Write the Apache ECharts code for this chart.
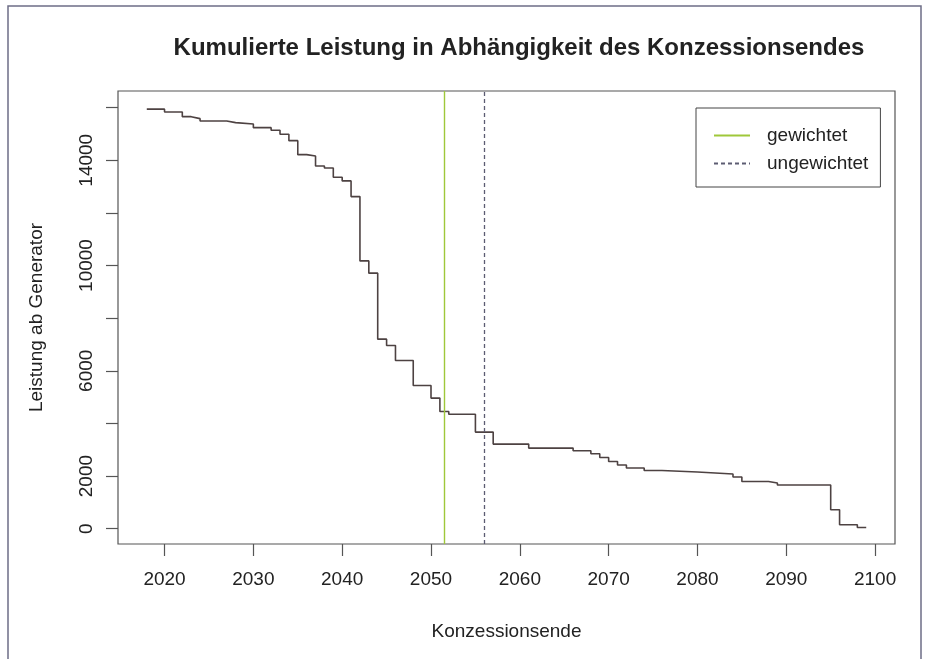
<!DOCTYPE html>
<html>
<head>
<meta charset="utf-8">
<script src="https://cdn.jsdelivr.net/npm/echarts@6/dist/echarts.min.js"></script>
<style>
  html, body { margin: 0; padding: 0; background: #fff; }
  #chart { width: 931px; height: 659px; }
</style>
</head>
<body>
<div id="chart"></div>
<script>
// Jahr des Konzessionsendes und verbleibende Leistung ab diesem Jahr
const jahre = [2018, 2020, 2022, 2023, 2024, 2027, 2028, 2030, 2032, 2033, 2034, 2035, 2036, 2037,
  2038, 2039, 2040, 2041, 2042, 2043, 2044, 2045, 2046, 2048, 2050, 2051, 2052, 2055, 2057, 2061,
  2066, 2068, 2069, 2070, 2071, 2072, 2074, 2076, 2080, 2084, 2085, 2088, 2089, 2095, 2096, 2098, 2099]
const leistung = [15940, 15834, 15655, 15580, 15492, 15428, 15378, 15238, 15139, 14987, 14744, 14212, 14163, 13783,
  13707, 13354, 13214, 12618, 10176, 9709, 7203, 6960, 6391, 5441, 4963, 4454, 4348, 3672, 3216, 3064,
  2962, 2848, 2707, 2555, 2419, 2305, 2214, 2153, 2081, 1963, 1796, 1735, 1659, 721, 152, 49, 40]

// Mittelwerte (senkrechte Linien)
const gewichtetJahr = 2051.5
const ungewichtetJahr = 2056

// Achsenbeschriftung
const xTicks = [2020, 2030, 2040, 2050, 2060, 2070, 2080, 2090, 2100]
const yTicks = [0, 2000, 4000, 6000, 8000, 10000, 12000, 14000, 16000]
const yLabels = [0, 2000, 6000, 10000, 14000]

const font = 'Liberation Sans, Arial, sans-serif'
const chart = echarts.init(document.getElementById('chart'))

const option = {
  backgroundColor: '#fff',
  animation: false,
  title: {
    text: 'Kumulierte Leistung in Abhängigkeit des Konzessionsendes',
    left: 514, top: 31, textAlign: 'center',
    textStyle: { fontFamily: font, fontSize: 24, fontWeight: 'bold', color: '#222' }
  },
  legend: {
    orient: 'vertical',
    left: 696, top: 108,
    padding: [18, 12, 14, 17],
    itemGap: 9,
    itemWidth: 36, itemHeight: 14,
    borderColor: '#444', borderWidth: 1,
    itemStyle: { opacity: 0 },
    data: ['gewichtet', 'ungewichtet'],
    textStyle: { fontFamily: font, fontSize: 19, color: '#222', padding: [0, 0, 0, 12] }
  },
  grid: {
    left: 118, right: 36, top: 91, bottom: 115,
    show: true, borderColor: '#555', borderWidth: 1.2, backgroundColor: 'transparent'
  },
  xAxis: {
    type: 'value',
    min: 2014.76, max: 2102.24,
    name: 'Konzessionsende',
    nameLocation: 'middle', nameGap: 78,
    nameTextStyle: { fontFamily: font, fontSize: 19, color: '#222' },
    axisLine: { show: false, onZero: false },
    axisTick: { show: true, length: 12, customValues: xTicks, lineStyle: { color: '#555', width: 1.2 } },
    axisLabel: {
      customValues: xTicks, margin: 26, fontFamily: font, fontSize: 19, color: '#222',
      formatter: (v) => String(v)
    },
    splitLine: { show: false }
  },
  yAxis: {
    type: 'value',
    min: -580, max: 16630,
    name: 'Leistung ab Generator',
    nameLocation: 'middle', nameGap: 72, nameRotate: 90,
    nameTextStyle: { fontFamily: font, fontSize: 19, color: '#222' },
    axisLine: { show: false, onZero: false },
    axisTick: { show: true, length: 12, customValues: yTicks, lineStyle: { color: '#555', width: 1.2 } },
    axisLabel: {
      customValues: yLabels, rotate: 90, margin: 22, fontFamily: font, fontSize: 19, color: '#222',
      formatter: (v) => String(v)
    },
    splitLine: { show: false }
  },
  series: [
    {
      name: 'Leistung',
      type: 'line',
      step: 'end',
      symbol: 'none',
      lineStyle: { color: '#4d4242', width: 1.6 },
      data: jahre.map((j, i) => [j, leistung[i]])
    },
    {
      name: 'gewichtet',
      type: 'line',
      symbol: 'none',
      data: [],
      lineStyle: { color: '#9fc83a', width: 1.4 },
      itemStyle: { color: '#9fc83a' },
      markLine: {
        silent: true, symbol: 'none', label: { show: false },
        lineStyle: { color: '#9fc83a', width: 1.4, type: 'solid' },
        data: [{ xAxis: gewichtetJahr }]
      }
    },
    {
      name: 'ungewichtet',
      type: 'line',
      symbol: 'none',
      data: [],
      lineStyle: { color: '#5c5c72', width: 1.3, type: [4, 3] },
      itemStyle: { color: '#5c5c72' },
      markLine: {
        silent: true, symbol: 'none', label: { show: false },
        lineStyle: { color: '#5c5c72', width: 1.3, type: [4, 3] },
        data: [{ xAxis: ungewichtetJahr }]
      }
    }
  ],
  graphic: [
    {
      type: 'rect',
      shape: { x: 8, y: 6, width: 913, height: 700 },
      style: { fill: 'none', stroke: '#6e6e86', lineWidth: 1.5 },
      silent: true
    }
  ]
}

chart.setOption(option)
</script>
</body>
</html>
